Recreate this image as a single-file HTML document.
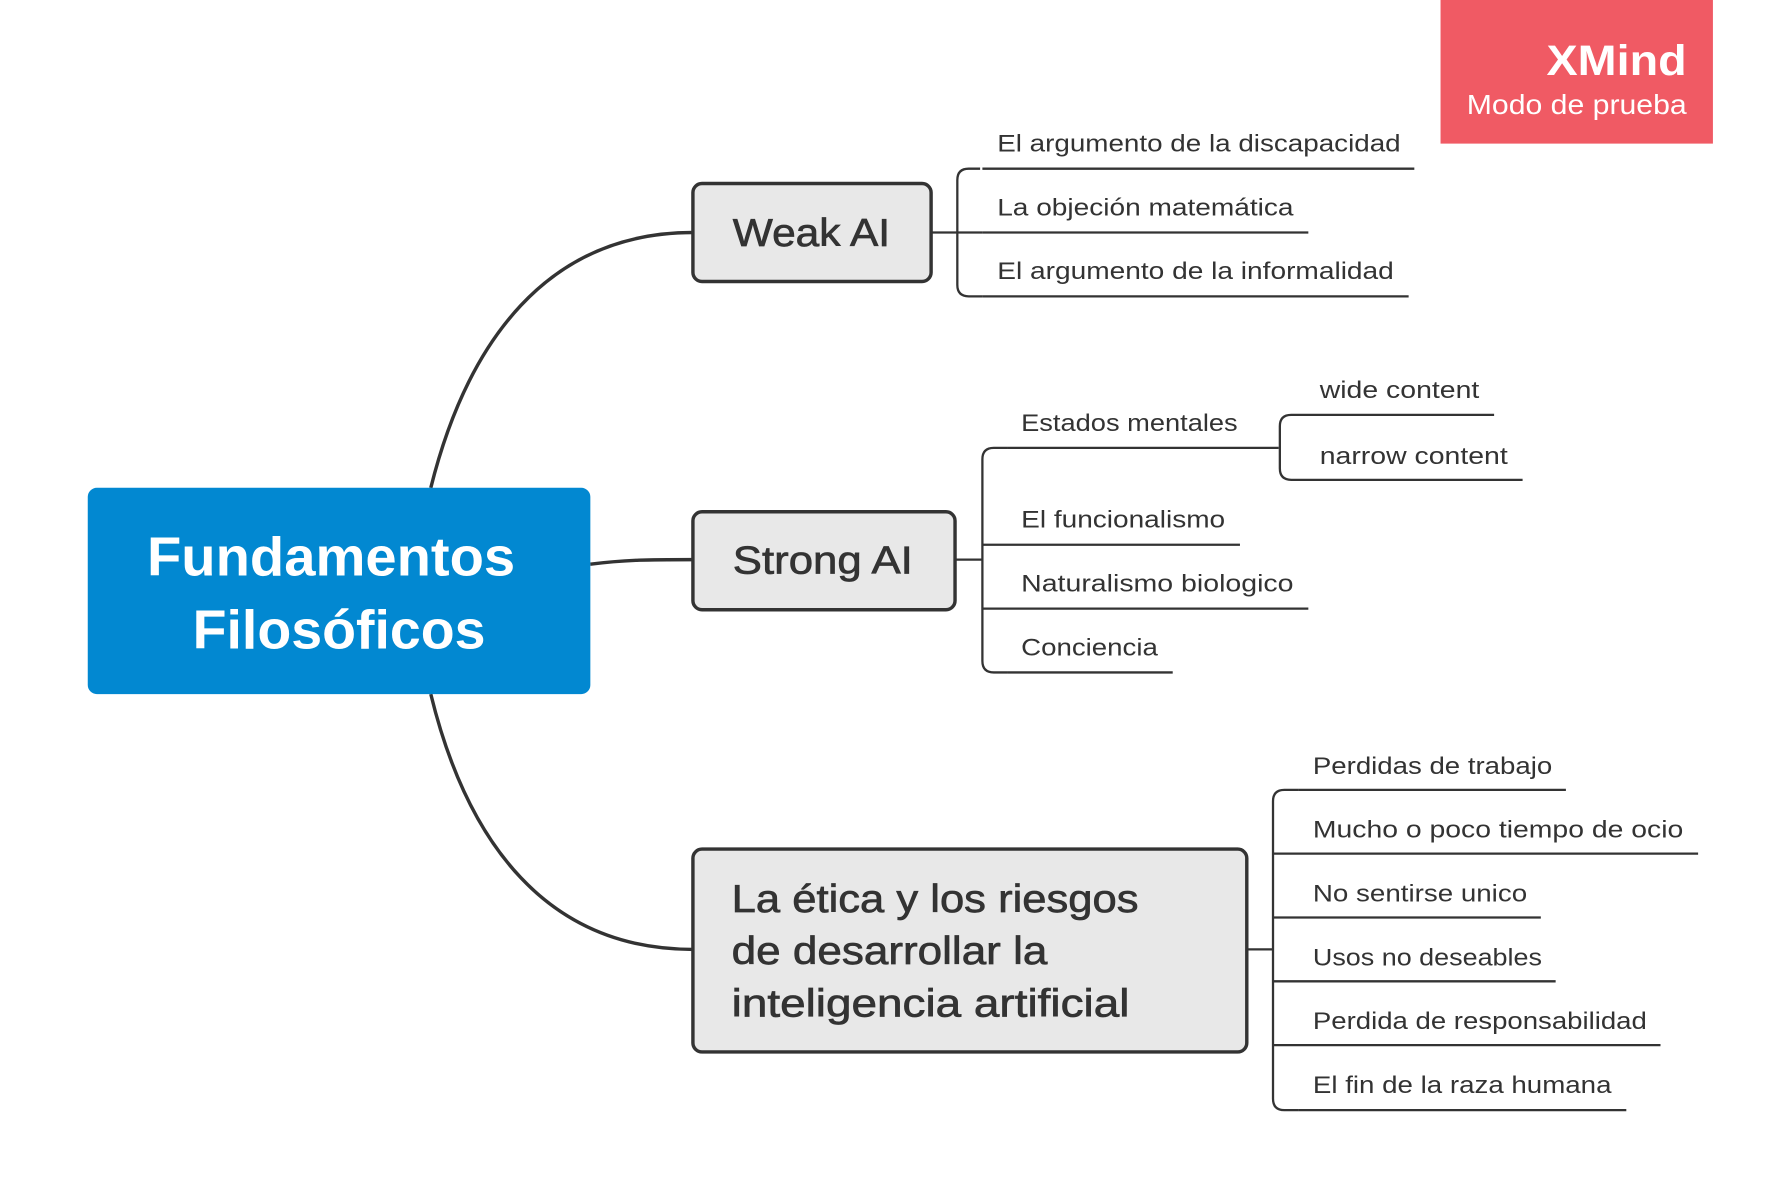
<!DOCTYPE html>
<html><head><meta charset="utf-8"><style>html,body{margin:0;padding:0;background:#fff;}svg{display:block;}text{font-family:"Liberation Sans",sans-serif;}</style></head>
<body>
<svg width="1787" height="1199" viewBox="0 0 1568 1052" preserveAspectRatio="none" xmlns="http://www.w3.org/2000/svg">
<rect x="1264" y="-5" width="239" height="131" fill="#f05a64"/>
<text x="1357" y="66" font-size="37" font-weight="bold" fill="#fff" textLength="123" lengthAdjust="spacingAndGlyphs">XMind</text>
<text x="1287" y="100" font-size="24" fill="#fff" textLength="193" lengthAdjust="spacingAndGlyphs">Modo de prueba</text>
<g fill="none" stroke="#333" stroke-width="3">
<path d="M378,428 C410,300 480,204 608,204"/>
<path d="M518,495 C550,491 570,491 608,491"/>
<path d="M378,609 C410,740 480,833 608,833"/>
</g>
<g fill="none" stroke="#333" stroke-width="2">
<path d="M817,204 H862 M860,148 H850 Q840,148 840,158 V250 Q840,260 850,260 H862"/>
<path d="M862,148 H1241 M862,204 H1148 M862,260 H1236"/>
<path d="M838,491 H862 M884,393 H872 Q862,393 862,403 V580 Q862,590 872,590 H884"/>
<path d="M884,393 H1122 M884,478 H1088 M884,534 H1148 M884,590 H1029 M862,478 H884 M862,534 H884"/>
<path d="M1122,393 H1123 M1145,364 H1133 Q1123,364 1123,374 V411 Q1123,421 1133,421 H1145 M1145,364 H1311 M1145,421 H1336"/>
<path d="M1094,833 H1117 M1139,693 H1127 Q1117,693 1117,703 V964 Q1117,974 1127,974 H1139"/>
<path d="M1139,693 H1374 M1117,749 H1490 M1117,805 H1352 M1117,861 H1365 M1117,917 H1457 M1139,974 H1427"/>
</g>
<rect x="77" y="428" width="441" height="181" rx="8" fill="#0288d1"/>
<text x="129" y="505" font-size="48" font-weight="bold" fill="#fff" textLength="323" lengthAdjust="spacingAndGlyphs">Fundamentos</text>
<text x="169" y="569" font-size="48" font-weight="bold" fill="#fff" textLength="257" lengthAdjust="spacingAndGlyphs">Filosóficos</text>
<g fill="#e8e8e8" stroke="#333" stroke-width="3">
<rect x="608" y="161" width="209" height="86" rx="8"/>
<rect x="608" y="449" width="230" height="86" rx="8"/>
<rect x="608" y="745" width="486" height="178" rx="8"/>
</g>
<g fill="#333" font-size="34" stroke="#333" stroke-width="0.6" lengthAdjust="spacingAndGlyphs">
<text x="643" y="216" textLength="138" lengthAdjust="spacingAndGlyphs">Weak AI</text>
<text x="643" y="503" textLength="158" lengthAdjust="spacingAndGlyphs">Strong AI</text>
<text x="642" y="800" textLength="357" lengthAdjust="spacingAndGlyphs">La ética y los riesgos</text>
<text x="642" y="846" textLength="277" lengthAdjust="spacingAndGlyphs">de desarrollar la</text>
<text x="642" y="892" textLength="349" lengthAdjust="spacingAndGlyphs">inteligencia artificial</text>
</g>
<g fill="#333" font-size="21">
<text x="875" y="133" textLength="354" lengthAdjust="spacingAndGlyphs">El argumento de la discapacidad</text>
<text x="875" y="189" textLength="260" lengthAdjust="spacingAndGlyphs">La objeción matemática</text>
<text x="875" y="245" textLength="348" lengthAdjust="spacingAndGlyphs">El argumento de la informalidad</text>
<text x="896" y="378" textLength="190" lengthAdjust="spacingAndGlyphs">Estados mentales</text>
<text x="896" y="463" textLength="179" lengthAdjust="spacingAndGlyphs">El funcionalismo</text>
<text x="896" y="519" textLength="239" lengthAdjust="spacingAndGlyphs">Naturalismo biologico</text>
<text x="896" y="575" textLength="120" lengthAdjust="spacingAndGlyphs">Conciencia</text>
<text x="1158" y="349" textLength="140" lengthAdjust="spacingAndGlyphs">wide content</text>
<text x="1158" y="407" textLength="165" lengthAdjust="spacingAndGlyphs">narrow content</text>
<text x="1152" y="679" textLength="210" lengthAdjust="spacingAndGlyphs">Perdidas de trabajo</text>
<text x="1152" y="735" textLength="325" lengthAdjust="spacingAndGlyphs">Mucho o poco tiempo de ocio</text>
<text x="1152" y="791" textLength="188" lengthAdjust="spacingAndGlyphs">No sentirse unico</text>
<text x="1152" y="847" textLength="201" lengthAdjust="spacingAndGlyphs">Usos no deseables</text>
<text x="1152" y="903" textLength="293" lengthAdjust="spacingAndGlyphs">Perdida de responsabilidad</text>
<text x="1152" y="959" textLength="262" lengthAdjust="spacingAndGlyphs">El fin de la raza humana</text>
</g>
</svg>
</body></html>
